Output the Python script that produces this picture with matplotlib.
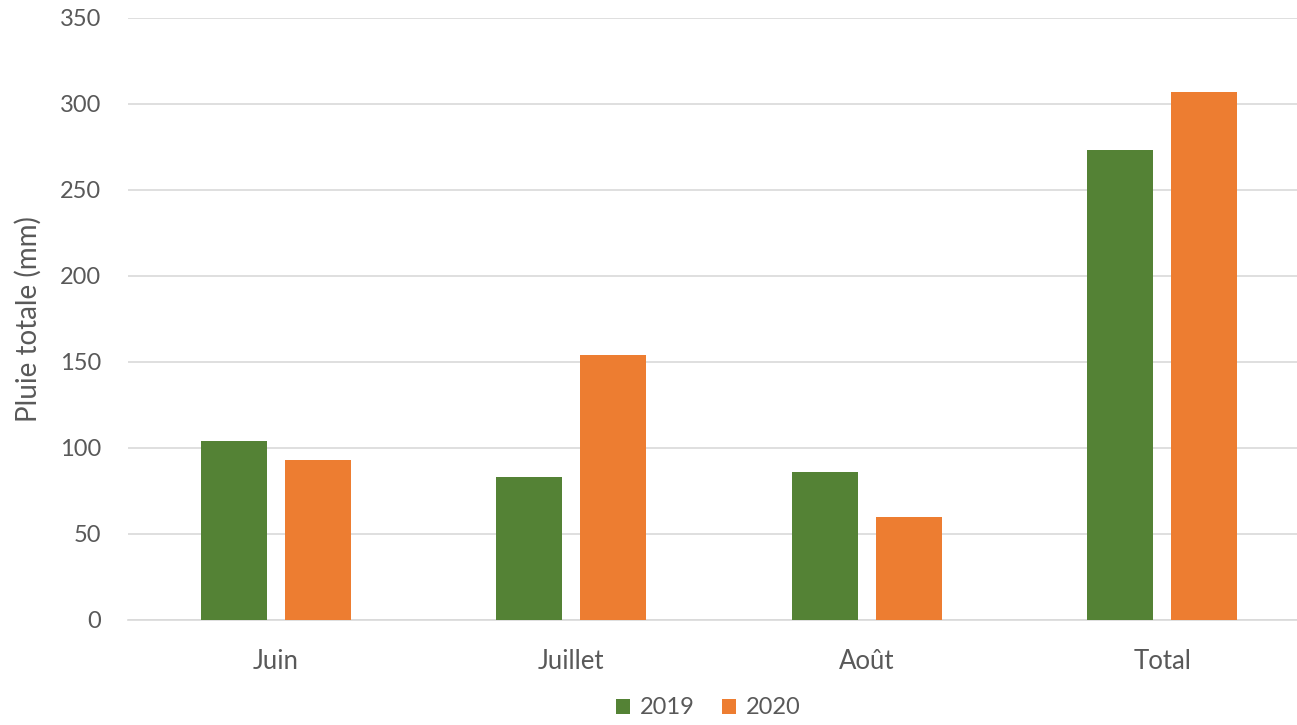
import matplotlib
matplotlib.use("Agg")
import matplotlib.pyplot as plt
import numpy as np

categories = ["Juin", "Juillet", "Août", "Total"]
series_names = ["2019", "2020"]
values_2019 = [104, 83, 86, 273]
values_2020 = [93, 154, 60, 307]
yticks = [0, 50, 100, 150, 200, 250, 300, 350]

plt.rcParams['font.family'] = ['Lato', 'DejaVu Sans']
TXT = "#595959"
GREEN = "#548235"
ORANGE = "#ED7D31"
GRID = "#D9D9D9"

fig = plt.figure(figsize=(12.97, 7.25), dpi=100)
ax = fig.add_axes([128/1297, 1 - 620/725, 1 - 128/1297, (620 - 18)/725])

x = np.arange(len(categories))
w = 0.223
off = 0.142
ax.bar(x - off, values_2019, width=w, color=GREEN, label=series_names[0], zorder=3)
ax.bar(x + off, values_2020, width=w, color=ORANGE, label=series_names[1], zorder=3)

ax.set_ylim(0, 350)
ax.set_xlim(-0.5, 3.5 - 13/295.5)
ax.set_yticks(yticks)
ax.set_xticks(x)
ax.set_xticklabels(categories)
ax.yaxis.grid(True, color=GRID, linewidth=1.2, zorder=0)
ax.set_axisbelow(True)
for s in ["top", "right", "left"]:
    ax.spines[s].set_visible(False)
ax.spines["bottom"].set_color(GRID)
ax.spines["bottom"].set_linewidth(1.2)
ax.tick_params(axis="both", length=0, colors=TXT)
ax.tick_params(axis="y", pad=19.5, labelsize=17)
ax.tick_params(axis="x", pad=21, labelsize=18.5)
ax.set_ylabel("Pluie totale (mm)", fontsize=20, color=TXT, labelpad=13)

leg = fig.legend(loc="center", bbox_to_anchor=(708/1297, 1 - 708/725), ncol=2,
                 frameon=False, fontsize=17, handlelength=0.6, handleheight=0.6,
                 handletextpad=0.42, columnspacing=1.15, borderpad=0.2)
for t in leg.get_texts():
    t.set_color(TXT)

fig.savefig("out.png", dpi=100)
